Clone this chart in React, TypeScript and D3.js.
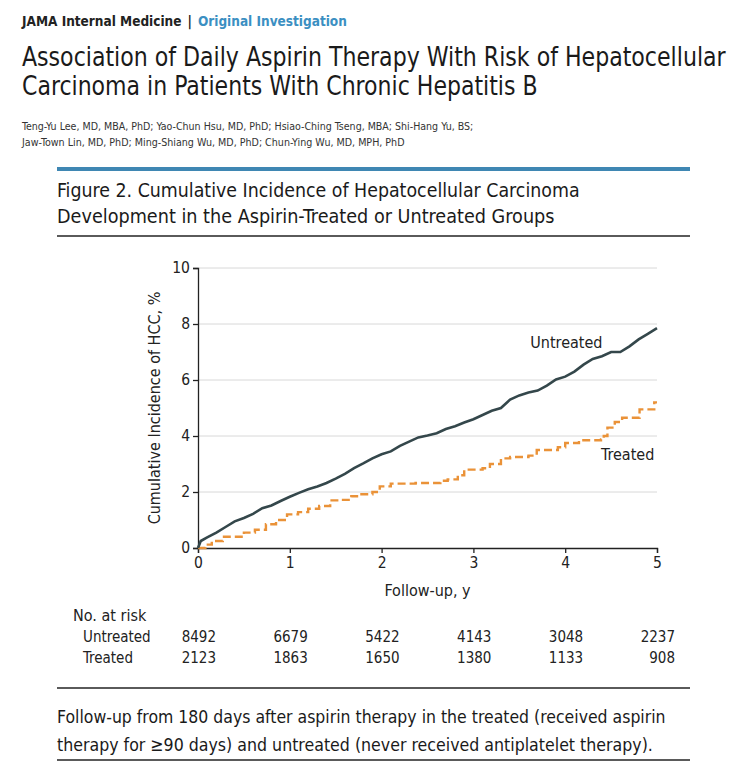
import React, { useEffect, useRef } from 'react';
import * as d3 from 'd3';

// cumulative incidence (%) by year of follow-up
const untreatedT = [0, 0.03, 0.1, 0.2, 0.3, 0.4, 0.5, 0.6, 0.7, 0.8, 0.9, 1.0, 1.1, 1.2, 1.3, 1.4, 1.5, 1.6, 1.7, 1.8, 1.9, 2.0, 2.1, 2.2, 2.3, 2.4, 2.5, 2.6, 2.7, 2.8, 2.9, 3.0, 3.1, 3.2, 3.3, 3.4, 3.5, 3.6, 3.7, 3.8, 3.9, 4.0, 4.1, 4.2, 4.3, 4.4, 4.5, 4.6, 4.7, 4.8, 4.9, 5.0];
const untreatedV = [0, 0.25, 0.38, 0.55, 0.75, 0.95, 1.07, 1.22, 1.42, 1.52, 1.68, 1.83, 1.97, 2.1, 2.2, 2.32, 2.48, 2.65, 2.85, 3.02, 3.2, 3.35, 3.45, 3.65, 3.8, 3.95, 4.02, 4.1, 4.25, 4.35, 4.48, 4.6, 4.75, 4.9, 5.0, 5.3, 5.45, 5.55, 5.62, 5.8, 6.02, 6.12, 6.3, 6.55, 6.75, 6.85, 7.0, 7.0, 7.2, 7.45, 7.65, 7.85];

const treatedT = [0, 0.08, 0.15, 0.27, 0.43, 0.5, 0.62, 0.74, 0.85, 0.97, 1.09, 1.2, 1.32, 1.44, 1.55, 1.67, 1.75, 1.9, 1.98, 2.1, 2.37, 2.64, 2.72, 2.83, 2.9, 3.1, 3.18, 3.3, 3.4, 3.6, 3.69, 3.88, 3.92, 4.0, 4.1, 4.15, 4.39, 4.42, 4.46, 4.54, 4.62, 4.74, 4.81, 4.93, 4.97, 5.0];
const treatedV = [0, 0.12, 0.25, 0.4, 0.4, 0.55, 0.65, 0.85, 1.0, 1.2, 1.28, 1.4, 1.5, 1.7, 1.72, 1.85, 1.92, 2.0, 2.2, 2.3, 2.32, 2.4, 2.45, 2.6, 2.8, 2.85, 3.0, 3.2, 3.25, 3.3, 3.5, 3.5, 3.6, 3.75, 3.75, 3.85, 3.88, 4.0, 4.3, 4.5, 4.65, 4.65, 4.95, 4.95, 5.2, 5.2];

const xTicks = [0, 1, 2, 3, 4, 5];
const yTicks = [0, 2, 4, 6, 8, 10];

const riskGroups = ['Untreated', 'Treated'];
const riskUntreated = [8492, 6679, 5422, 4143, 3048, 2237];
const riskTreated = [2123, 1863, 1650, 1380, 1133, 908];

const FONT = "'Liberation Sans Narrow', 'DejaVu Sans Condensed', 'Liberation Sans', sans-serif";
const DARK = '#34474b';
const ORANGE = '#ea9238';

// write a line of text and squeeze it horizontally to a given width
const fitLine = (svg: any, str: string, x0: number, y0: number, size: number, target: number, fill = '#1a1a1a') => {
  const t = svg.append('text').attr('font-size', size).attr('fill', fill).text(str);
  const natural = (t.node() as SVGTextElement).getComputedTextLength();
  t.attr('transform', `translate(${x0}, ${y0}) scale(${target / natural}, 1)`);
  return t;
};

const App = () => {
  const ref = useRef<SVGSVGElement>(null);
  const width = 743, height = 771;
  const margin = { left: 198, right: 86, top: 268, bottom: 223 };

  useEffect(() => {
    const svg = d3.select(ref.current);
    svg.selectAll('*').remove();
    svg.style('font-family', FONT);

    const w = width - margin.left - margin.right;
    const h = height - margin.top - margin.bottom;

    // header block
    const head = svg.append('text').attr('x', 22).attr('y', 26).attr('font-size', 13.5).attr('font-weight', 'bold');
    head.append('tspan').attr('fill', '#222').text('JAMA Internal Medicine');
    head.append('tspan').attr('fill', '#222').attr('dx', 6).text('|');
    head.append('tspan').attr('fill', '#3b8fc2').attr('dx', 6).text('Original Investigation');

    fitLine(svg, 'Association of Daily Aspirin Therapy With Risk of Hepatocellular', 22, 66, 27, 704);
    fitLine(svg, 'Carcinoma in Patients With Chronic Hepatitis B', 22, 95, 27, 516);

    fitLine(svg, 'Teng-Yu Lee, MD, MBA, PhD; Yao-Chun Hsu, MD, PhD; Hsiao-Ching Tseng, MBA; Shi-Hang Yu, BS;', 22, 130, 11, 452, '#333');
    fitLine(svg, 'Jaw-Town Lin, MD, PhD; Ming-Shiang Wu, MD, PhD; Chun-Ying Wu, MD, MPH, PhD', 22, 146, 11, 383, '#333');

    svg.append('rect').attr('x', 57).attr('y', 167).attr('width', 633).attr('height', 4).attr('fill', '#3f87b3');

    fitLine(svg, 'Figure 2. Cumulative Incidence of Hepatocellular Carcinoma', 57, 197, 20, 523);
    fitLine(svg, 'Development in the Aspirin-Treated or Untreated Groups', 57, 223, 20, 498);
    svg.append('rect').attr('x', 57).attr('y', 235).attr('width', 633).attr('height', 2).attr('fill', '#5a5a5a');

    // chart
    const x = d3.scaleLinear().domain([0, 5]).range([0, w]);
    const y = d3.scaleLinear().domain([0, 10]).range([h, 0]);
    const chart = svg.append('g').attr('transform', `translate(${margin.left}, ${margin.top})`);

    chart.append('g').selectAll('line').data(yTicks.filter(d => d > 0)).enter().append('line')
      .attr('x1', 0).attr('x2', w).attr('y1', d => y(d)).attr('y2', d => y(d))
      .attr('stroke', '#d8d8d8').attr('stroke-width', 1);

    const yAxis = chart.append('g').call(d3.axisLeft(y).tickValues(yTicks).tickFormat(d3.format('d')).tickSize(5).tickPadding(3));
    const xAxis = chart.append('g').attr('transform', `translate(0, ${h})`)
      .call(d3.axisBottom(x).tickValues(xTicks).tickFormat(d3.format('d')).tickSize(5).tickPadding(4));
    [yAxis, xAxis].forEach(a => {
      a.selectAll('text').attr('font-size', 15.5).attr('font-family', FONT).attr('fill', '#222');
      a.selectAll('line, path').attr('stroke', '#222').attr('stroke-width', 1.3);
    });

    const line = d3.line<[number, number]>().x(d => x(d[0])).y(d => y(d[1]));
    const stepLine = d3.line<[number, number]>().x(d => x(d[0])).y(d => y(d[1])).curve(d3.curveStepAfter);

    chart.append('path').datum(treatedT.map((t, i) => [t, treatedV[i]] as [number, number]))
      .attr('d', stepLine).attr('fill', 'none').attr('stroke', ORANGE)
      .attr('stroke-width', 2.4).attr('stroke-dasharray', '8,4');
    chart.append('path').datum(untreatedT.map((t, i) => [t, untreatedV[i]] as [number, number]))
      .attr('d', line).attr('fill', 'none').attr('stroke', DARK).attr('stroke-width', 2.6);

    chart.append('text').attr('x', x(3.62)).attr('y', y(7.15)).attr('font-size', 16).attr('fill', '#222').text('Untreated');
    chart.append('text').attr('x', x(4.39)).attr('y', y(3.14)).attr('font-size', 16).attr('fill', '#222').text('Treated');

    svg.append('text').attr('transform', `translate(160, ${margin.top + h / 2}) rotate(-90)`)
      .attr('text-anchor', 'middle').attr('font-size', 16).attr('fill', '#222').text('Cumulative Incidence of HCC, %');
    svg.append('text').attr('x', margin.left + w / 2).attr('y', 596).attr('text-anchor', 'middle')
      .attr('font-size', 16).attr('fill', '#222').text('Follow-up, y');

    // number at risk table
    svg.append('text').attr('x', 73).attr('y', 621).attr('font-size', 16).attr('fill', '#222').text('No. at risk');
    [riskUntreated, riskTreated].forEach((row, r) => {
      const ty = 642 + r * 21;
      svg.append('text').attr('x', 83).attr('y', ty).attr('font-size', 15).attr('fill', '#222').text(riskGroups[r]);
      svg.append('g').selectAll('text').data(row).enter().append('text')
        .attr('x', (d, i) => margin.left + x(xTicks[i]) + 18).attr('y', ty)
        .attr('text-anchor', 'end').attr('font-size', 15).attr('fill', '#222').text(d => d);
    });
    svg.append('rect').attr('x', 57).attr('y', 687).attr('width', 633).attr('height', 2).attr('fill', '#5a5a5a');

    fitLine(svg, 'Follow-up from 180 days after aspirin therapy in the treated (received aspirin', 57, 723, 18.5, 609);
    fitLine(svg, 'therapy for \u226590 days) and untreated (never received antiplatelet therapy).', 57, 751, 18.5, 596);
    svg.append('rect').attr('x', 57).attr('y', 759).attr('width', 633).attr('height', 2).attr('fill', '#5a5a5a');
  }, []);

  return (
    <svg ref={ref} width={width} height={height}
      style={{ position: 'absolute', left: 0, top: 0, background: '#fff' }} />
  );
};

export default App;
